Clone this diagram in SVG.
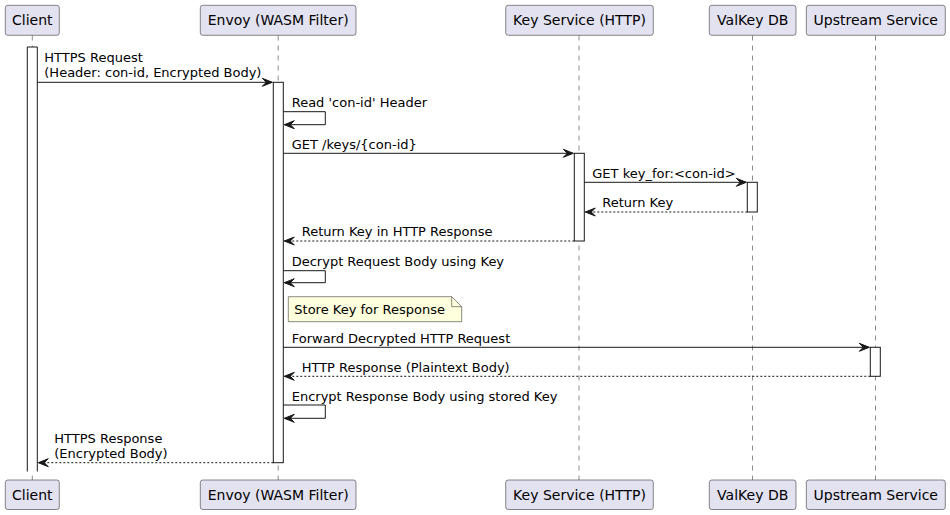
<svg xmlns="http://www.w3.org/2000/svg" width="950" height="515" viewBox="0 0 950 515">
<style>
.p rect{fill:#E2E2F0;stroke:#181818;stroke-width:0.5}
.p text{font-family:"DejaVu Sans",sans-serif;font-size:14px;fill:#000;text-anchor:middle}
.life{stroke:#181818;stroke-width:0.5;stroke-dasharray:5,5;fill:none}
.act{fill:#FFFFFF;stroke:#181818;stroke-width:1}
.m{stroke:#181818;stroke-width:1;fill:none}
.d{stroke-dasharray:2,2}
.lbl{font-family:"DejaVu Sans",sans-serif;font-size:13px;fill:#000}
</style>
<defs>
<marker id="ah" markerUnits="userSpaceOnUse" markerWidth="11" markerHeight="9" refX="10" refY="4" orient="auto" viewBox="0 0 11 9" overflow="visible">
<path d="M0,0 L10,4 L0,8 L4,4 Z" fill="#181818" stroke="#181818" stroke-width="1"/>
</marker>
</defs>
<g id="lifelines">
<line class="life" x1="32.3" y1="35.5" x2="32.3" y2="480"/>
<line class="life" x1="278.2" y1="35.5" x2="278.2" y2="480"/>
<line class="life" x1="579" y1="35.5" x2="579" y2="480"/>
<line class="life" x1="752.5" y1="35.5" x2="752.5" y2="480"/>
<line class="life" x1="875.5" y1="35.5" x2="875.5" y2="480"/>
</g>
<g id="activations">
<path class="act" d="M27.3,471.5 L27.3,47 L37.3,47 L37.3,471.5"/>
<rect class="act" x="273.3" y="82.3" width="10" height="380.4"/>
<rect class="act" x="574.3" y="153.3" width="10" height="87.7"/>
<rect class="act" x="747.3" y="182.3" width="10" height="29.7"/>
<rect class="act" x="870.3" y="347.3" width="10" height="29"/>
</g>
<g id="p-client" class="p">
<rect x="5.3" y="5.3" width="54" height="30" rx="2.5"/><text x="32.3" y="25">Client</text>
<rect x="5.3" y="480" width="54" height="29.5" rx="2.5"/><text x="32.3" y="500">Client</text>
</g>
<g id="p-envoy" class="p">
<rect x="200.3" y="5.3" width="155.7" height="30" rx="2.5"/><text x="278.2" y="25">Envoy (WASM Filter)</text>
<rect x="200.3" y="480" width="155.7" height="29.5" rx="2.5"/><text x="278.2" y="500">Envoy (WASM Filter)</text>
</g>
<g id="p-keyservice" class="p">
<rect x="505.7" y="5.3" width="147.6" height="30" rx="2.5"/><text x="579.5" y="25">Key Service (HTTP)</text>
<rect x="505.7" y="480" width="147.6" height="29.5" rx="2.5"/><text x="579.5" y="500">Key Service (HTTP)</text>
</g>
<g id="p-valkey" class="p">
<rect x="709.3" y="5.3" width="86.7" height="30" rx="2.5"/><text x="752.7" y="25">ValKey DB</text>
<rect x="709.3" y="480" width="86.7" height="29.5" rx="2.5"/><text x="752.7" y="500">ValKey DB</text>
</g>
<g id="p-upstream" class="p">
<rect x="806.3" y="5.3" width="139" height="30" rx="2.5"/><text x="875.8" y="25">Upstream Service</text>
<rect x="806.3" y="480" width="139" height="29.5" rx="2.5"/><text x="875.8" y="500">Upstream Service</text>
</g>
<g id="note-store">
<path d="M288.3,296.7 L451.7,296.7 L461.7,306.7 L461.7,321.7 L288.3,321.7 Z" fill="#FEFFDD" stroke="#181818" stroke-width="0.5"/>
<path d="M451.7,296.7 L451.7,306.7 L461.7,306.7" fill="none" stroke="#181818" stroke-width="0.5"/>
<text class="lbl" x="294.3" y="313.5">Store Key for Response</text>
</g>
<g id="connectors">
<line class="m" x1="37.3" y1="82.3" x2="272.3" y2="82.3" marker-end="url(#ah)"/>
<path class="m" d="M283.3,111.7 L325.3,111.7 L325.3,124.7 L284.3,124.7" marker-end="url(#ah)"/>
<line class="m" x1="283.3" y1="153.3" x2="573.3" y2="153.3" marker-end="url(#ah)"/>
<line class="m" x1="584.3" y1="182.3" x2="746.3" y2="182.3" marker-end="url(#ah)"/>
<line class="m d" x1="747.3" y1="212" x2="585.3" y2="212" marker-end="url(#ah)"/>
<line class="m d" x1="574.3" y1="241" x2="284.3" y2="241" marker-end="url(#ah)"/>
<path class="m" d="M283.3,270.7 L325.3,270.7 L325.3,282.7 L284.3,282.7" marker-end="url(#ah)"/>
<line class="m" x1="283.3" y1="347.3" x2="869.3" y2="347.3" marker-end="url(#ah)"/>
<line class="m d" x1="870.3" y1="376.3" x2="284.3" y2="376.3" marker-end="url(#ah)"/>
<path class="m" d="M283.3,405 L325.3,405 L325.3,418.3 L284.3,418.3" marker-end="url(#ah)"/>
<line class="m d" x1="273.3" y1="462.7" x2="38.3" y2="462.7" marker-end="url(#ah)"/>
</g>
<g id="labels">
<text class="lbl" x="44.3" y="62.3">HTTPS Request</text>
<text class="lbl" x="44.3" y="77.4">(Header: con-id, Encrypted Body)</text>
<text class="lbl" x="291.7" y="107">Read 'con-id' Header</text>
<text class="lbl" x="291.7" y="148.5">GET /keys/{con-id}</text>
<text class="lbl" x="592.3" y="177.5">GET key_for:&lt;con-id&gt;</text>
<text class="lbl" x="602.3" y="207">Return Key</text>
<text class="lbl" x="301.7" y="236">Return Key in HTTP Response</text>
<text class="lbl" x="291.7" y="265.5">Decrypt Request Body using Key</text>
<text class="lbl" x="291.7" y="342.5">Forward Decrypted HTTP Request</text>
<text class="lbl" x="301.7" y="371.5">HTTP Response (Plaintext Body)</text>
<text class="lbl" x="291.7" y="400.5">Encrypt Response Body using stored Key</text>
<text class="lbl" x="54.3" y="443.3">HTTPS Response</text>
<text class="lbl" x="54.3" y="458.4">(Encrypted Body)</text>
</g>
</svg>
